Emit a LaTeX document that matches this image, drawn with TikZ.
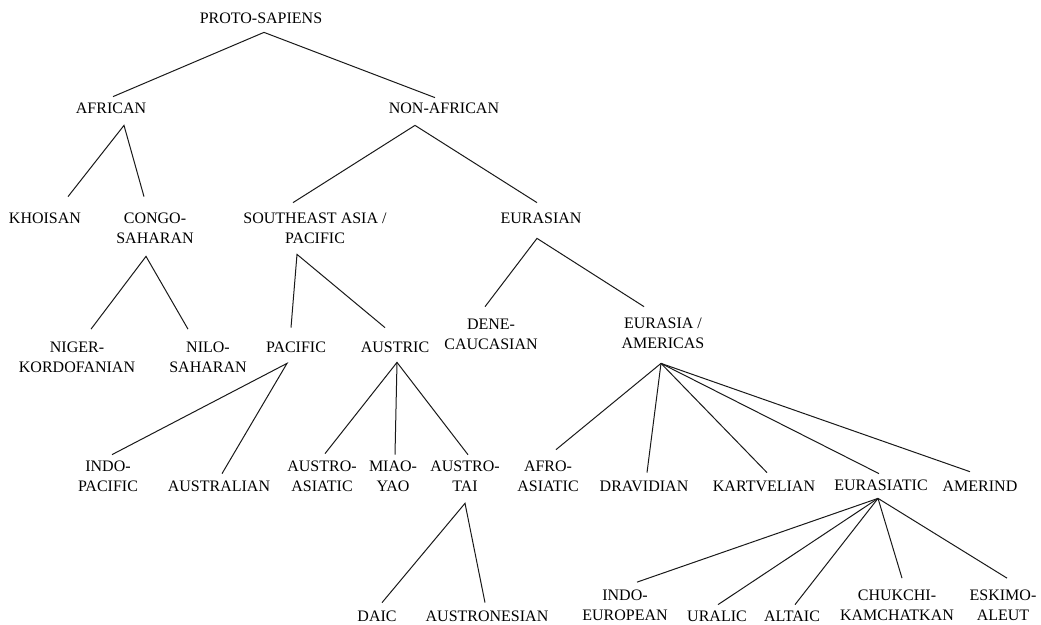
\documentclass[tikz,border=0pt]{standalone}
\usepackage{fontspec}
\setmainfont{Liberation Serif}
\usepackage{tikz}

\newcommand{\langfont}{\fontsize{16}{20}\selectfont}
\tikzset{
  lang/.style={inner sep=0pt, outer sep=0pt, align=center, font=\langfont},
  branch/.style={line width=1pt, black!90}
}

\begin{document}
\begin{tikzpicture}[x=1pt, y=-1pt]
    \useasboundingbox (0,0) rectangle (1041,624);

    % Top of the tree
    \node[lang] (proto) at (261,18) {PROTO-SAPIENS};
    \node[lang] (afr) at (111,108) {AFRICAN};
    \node[lang] (nonafr) at (444,108) {NON-AFRICAN};

    % Third row
    \node[lang] (khoisan) at (45,218) {KHOISAN};
    \node[lang] (congo) at (155,228) {CONGO-\\SAHARAN};
    \node[lang] (sea) at (315,228) {SOUTHEAST ASIA /\\PACIFIC};
    \node[lang] (eurasian) at (541,218) {EURASIAN};

    % Fourth row
    \node[lang] (niger) at (77,357.5) {NIGER-\\KORDOFANIAN};
    \node[lang] (nilo) at (208,357.5) {NILO-\\SAHARAN};
    \node[lang] (pac) at (296,347) {PACIFIC};
    \node[lang] (austric) at (395,347) {AUSTRIC};
    \node[lang] (dene) at (491,334) {DENE-\\CAUCASIAN};
    \node[lang] (euram) at (663,333) {EURASIA /\\AMERICAS};

    % Fifth row
    \node[lang] (indopac) at (108,476) {INDO-\\PACIFIC};
    \node[lang] (australian) at (219,486) {AUSTRALIAN};
    \node[lang] (austroas) at (322,476) {AUSTRO-\\ASIATIC};
    \node[lang] (miao) at (393,476) {MIAO-\\YAO};
    \node[lang] (austrotai) at (465,476) {AUSTRO-\\TAI};
    \node[lang] (afroas) at (548,476) {AFRO-\\ASIATIC};
    \node[lang] (dravidian) at (644,486) {DRAVIDIAN};
    \node[lang] (kartvelian) at (764,486) {KARTVELIAN};
    \node[lang] (eurasiatic) at (881,485) {EURASIATIC};
    \node[lang] (amerind) at (980,486) {AMERIND};

    % Bottom row
    \node[lang] (daic) at (377,616) {DAIC};
    \node[lang] (austronesian) at (487,616) {AUSTRONESIAN};
    \node[lang] (indoeur) at (625,605.5) {INDO-\\EUROPEAN};
    \node[lang] (uralic) at (717,616) {URALIC};
    \node[lang] (altaic) at (792,616) {ALTAIC};
    \node[lang] (chukchi) at (897,605.5) {CHUKCHI-\\KAMCHATKAN};
    \node[lang] (eskimo) at (1003,605.5) {ESKIMO-\\ALEUT};

    % Branches from the root
    \draw[branch] ([shift={(2,-6)}]afr.north) -- ([shift={(3,9)}]proto.south) -- ([shift={(-9,-5)}]nonafr.north);

    % African side
    \draw[branch] ([shift={(23,-16)}]khoisan.north) -- ([shift={(13,12)}]afr.south) -- ([shift={(-11,-16)}]congo.north);
    \draw[branch] ([shift={(14,-13)}]niger.north) -- ([shift={(-9,13)}]congo.south) -- ([shift={(-20,-13)}]nilo.north);

    % Non-African side
    \draw[branch] ([shift={(-22,-10)}]sea.north) -- ([shift={(-29,12)}]nonafr.south) -- ([shift={(-4,-10)}]eurasian.north);
    \draw[branch] ([shift={(-5,-14)}]pac.north) -- ([shift={(-18,11)}]sea.south) -- ([shift={(-10,-14)}]austric.north);
    \draw[branch] ([shift={(4,-6)}]indopac.north) -- ([shift={(-9,11)}]pac.south) -- ([shift={(3,-7)}]australian.north);
    \draw[branch] ([shift={(3,-7)}]austroas.north) -- ([shift={(2,10)}]austric.south) -- ([shift={(3,-6)}]austrotai.north);
    \draw[branch] ([shift={(2,10)}]austric.south) -- ([shift={(2,-6)}]miao.north);
    \draw[branch] ([shift={(5,-8)}]daic.north) -- ([shift={(0,12)}]austrotai.south) -- ([shift={(-2,-8)}]austronesian.north);

    % Eurasian side
    \draw[branch] ([shift={(-6,-12)}]dene.north) -- ([shift={(-4,15)}]eurasian.south) -- ([shift={(-19,-11)}]euram.north);
    \foreach \kid/\dx/\dy in {afroas/8/-11, dravidian/3/-8, kartvelian/3/-8, eurasiatic/-2/-6, amerind/-10/-9}
      \draw[branch] ([shift={(-2,15)}]euram.south) -- ([shift={(\dx,\dy)}]\kid.north);
    \foreach \kid/\dx/\dy in {indoeur/12/-8, uralic/1/-6, altaic/3/-6, chukchi/5/-12, eskimo/4/-12}
      \draw[branch] ([shift={(-3,8)}]eurasiatic.south) -- ([shift={(\dx,\dy)}]\kid.north);
\end{tikzpicture}
\end{document}
